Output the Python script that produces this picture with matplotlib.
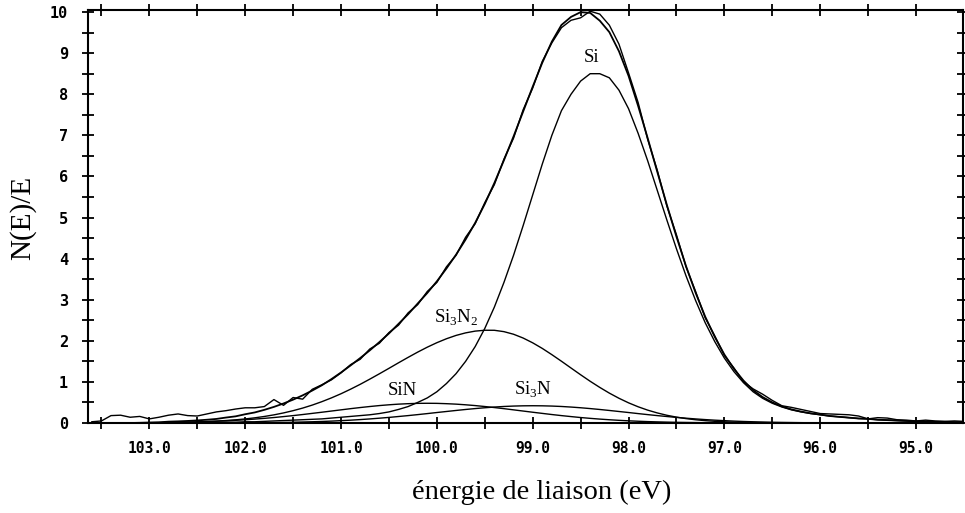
import numpy as np
import matplotlib
matplotlib.use("Agg")
from matplotlib import pyplot as plt
from matplotlib.ticker import MultipleLocator, FixedLocator

# grille en énergie de liaison : 103.6 -> 94.5 eV, pas de 0.1 eV
energie = np.round(103.6 - 0.1 * np.arange(92), 1)

# composante Si
si = [0, 0, 0, 0, 0, 0, 0, 0, 0.01, 0.01,
      0.01, 0.01, 0.01, 0.01, 0.02, 0.02, 0.03, 0.03, 0.04, 0.05,
      0.06, 0.07, 0.08, 0.09, 0.10, 0.12, 0.14, 0.16, 0.18, 0.20,
      0.23, 0.27, 0.33, 0.40, 0.50, 0.61, 0.76, 0.96, 1.20, 1.50,
      1.86, 2.30, 2.82, 3.42, 4.08, 4.80, 5.55, 6.30, 7.00, 7.60,
      8.00, 8.32, 8.50, 8.50, 8.40, 8.10, 7.65, 7.05, 6.38, 5.66,
      4.94, 4.24, 3.58, 2.98, 2.44, 1.98, 1.58, 1.25, 0.98, 0.76,
      0.60, 0.48, 0.39, 0.32, 0.27, 0.23, 0.20, 0.17, 0.15, 0.13,
      0.11, 0.10, 0.08, 0.07, 0.06, 0.05, 0.04, 0.04, 0.03, 0.03,
      0.02, 0.02]

# composante Si3N2
si3n2 = [0, 0, 0, 0, 0, 0, 0.005, 0.007, 0.010, 0.014,
         0.019, 0.026, 0.035, 0.046, 0.060, 0.077, 0.099, 0.126, 0.159, 0.198,
         0.245, 0.300, 0.363, 0.436, 0.519, 0.611, 0.712, 0.823, 0.941, 1.067,
         1.197, 1.330, 1.465, 1.597, 1.725, 1.845, 1.954, 2.050, 2.131, 2.193,
         2.236, 2.257, 2.256, 2.223, 2.160, 2.068, 1.951, 1.815, 1.663, 1.503,
         1.338, 1.174, 1.015, 0.866, 0.727, 0.602, 0.491, 0.395, 0.313, 0.245,
         0.188, 0.143, 0.107, 0.079, 0.057, 0.041, 0.029, 0.020, 0.014, 0.009,
         0.006, 0.004, 0, 0, 0, 0, 0, 0, 0, 0,
         0, 0, 0, 0, 0, 0, 0, 0, 0, 0,
         0, 0]

# composante SiN
sin = [0, 0, 0, 0, 0, 0.005, 0.007, 0.010, 0.013, 0.016,
       0.021, 0.027, 0.034, 0.043, 0.053, 0.065, 0.079, 0.095, 0.113, 0.133,
       0.156, 0.180, 0.206, 0.234, 0.262, 0.291, 0.320, 0.349, 0.376, 0.401,
       0.424, 0.443, 0.459, 0.470, 0.478, 0.480, 0.478, 0.470, 0.459, 0.443,
       0.424, 0.401, 0.376, 0.349, 0.320, 0.291, 0.262, 0.234, 0.206, 0.180,
       0.156, 0.133, 0.113, 0.095, 0.079, 0.065, 0.053, 0.043, 0.034, 0.027,
       0.021, 0.016, 0.013, 0.010, 0.007, 0.005, 0, 0, 0, 0,
       0, 0, 0, 0, 0, 0, 0, 0, 0, 0,
       0, 0, 0, 0, 0, 0, 0, 0, 0, 0,
       0, 0]

# composante Si3N
si3n = [0, 0, 0, 0, 0, 0, 0, 0, 0, 0,
        0, 0, 0, 0, 0, 0, 0.005, 0.006, 0.008, 0.011,
        0.014, 0.018, 0.024, 0.030, 0.037, 0.046, 0.057, 0.069, 0.083, 0.099,
        0.117, 0.136, 0.158, 0.180, 0.204, 0.229, 0.255, 0.280, 0.305, 0.329,
        0.351, 0.371, 0.388, 0.402, 0.412, 0.418, 0.420, 0.418, 0.412, 0.402,
        0.388, 0.371, 0.351, 0.329, 0.305, 0.280, 0.255, 0.229, 0.204, 0.180,
        0.158, 0.136, 0.117, 0.099, 0.083, 0.069, 0.057, 0.046, 0.037, 0.030,
        0.024, 0.018, 0.014, 0.011, 0.008, 0.006, 0.005, 0, 0, 0,
        0, 0, 0, 0, 0, 0, 0, 0, 0, 0,
        0, 0]

# spectre mesuré (bruité)
mesure = [0.03, 0.05, 0.18, 0.19, 0.14, 0.16, 0.10, 0.14, 0.19, 0.22,
          0.18, 0.17, 0.22, 0.27, 0.30, 0.34, 0.37, 0.37, 0.40, 0.57,
          0.43, 0.62, 0.58, 0.82, 0.93, 1.05, 1.22, 1.42, 1.55, 1.80,
          1.94, 2.20, 2.38, 2.68, 2.88, 3.20, 3.42, 3.80, 4.08, 4.52,
          4.85, 5.36, 5.80, 6.42, 6.93, 7.62, 8.15, 8.80, 9.25, 9.62,
          9.80, 9.86, 10.02, 9.95, 9.68, 9.22, 8.52, 7.80, 6.90, 6.15,
          5.28, 4.58, 3.80, 3.20, 2.56, 2.12, 1.64, 1.34, 1.00, 0.83,
          0.70, 0.55, 0.42, 0.38, 0.33, 0.28, 0.23, 0.22, 0.21, 0.20,
          0.17, 0.10, 0.13, 0.12, 0.08, 0.07, 0.05, 0.07, 0.05, 0.04,
          0.05, 0.04]

etiquettes = ["Si", r"Si$_3$N$_2$", "SiN", r"Si$_3$N"]
pos_etiquettes = [(98.39, 8.9), (99.80, 2.55), (100.36, 0.8), (99.0, 0.8)]

plt.rcParams['mathtext.fontset'] = 'custom'
plt.rcParams['mathtext.rm'] = 'Liberation Serif'

for nom, serie in [("si", si), ("si3n2", si3n2), ("sin", sin), ("si3n", si3n), ("mesure", mesure)]:
    assert len(serie) == len(energie), (nom, len(serie))

enveloppe = np.array(si) + np.array(si3n2) + np.array(sin) + np.array(si3n)

fig = plt.figure(figsize=(9.65, 5.13), dpi=100)
ax = fig.add_axes([88 / 965, 1 - 423 / 513, 875 / 965, 413 / 513])

for serie in [si, si3n2, sin, si3n]:
    ax.plot(energie, serie, color='black', lw=1.0)
ax.plot(energie, enveloppe, color='black', lw=1.3)
ax.plot(energie, mesure, color='black', lw=1.0)

ax.set_xlim(103.64, 94.51)
ax.set_ylim(0, 10.05)

ax.xaxis.set_major_locator(FixedLocator([103, 102, 101, 100, 99, 98, 97, 96, 95]))
ax.xaxis.set_minor_locator(MultipleLocator(0.5))
ax.yaxis.set_major_locator(MultipleLocator(1))
ax.yaxis.set_minor_locator(MultipleLocator(0.5))
ax.xaxis.set_major_formatter(plt.FuncFormatter(lambda v, p: f"{v:.1f}"))
ax.yaxis.set_major_formatter(plt.FuncFormatter(lambda v, p: f"{v:.0f}"))

for cote in ax.spines.values():
    cote.set_linewidth(1.5)

ax.tick_params(which='both', direction='inout', length=9, width=1.3,
               top=True, right=False)
ax.tick_params(axis='y', which='both', right=True)
ax.tick_params(axis='x', which='major', labelsize=10.5, pad=8.5)
ax.tick_params(axis='y', which='major', labelsize=11, pad=10)
for lab in ax.get_xticklabels() + ax.get_yticklabels():
    lab.set_fontfamily('DejaVu Sans Mono')
    lab.set_fontweight('bold')

for txt, (x, y) in zip(etiquettes, pos_etiquettes):
    ax.text(x, y, txt, family='Liberation Serif', fontsize=13.5,
            ha='center', va='center')

fig.text(0.561, 0.041, "énergie de liaison (eV)", family='Liberation Serif',
         fontsize=20.5, ha='center', va='center')
fig.text(0.024, 0.575, "N(E)/E", family='Liberation Serif', fontsize=21,
         ha='center', va='center', rotation=90)

fig.savefig("out.png", dpi=100)
